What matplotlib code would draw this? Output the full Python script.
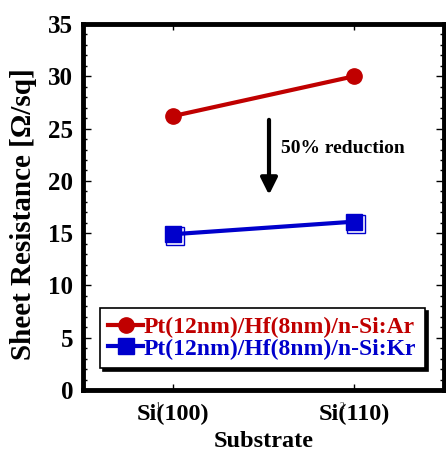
import numpy as np
import matplotlib.pyplot as plt
import matplotlib.transforms as mtransforms

plt.rcParams['font.family'] = ['Liberation Serif', 'DejaVu Serif']
plt.rcParams['font.weight'] = 'bold'

# data
substrates = ['Si(100)', 'Si(110)']
x_pos = [1, 2]
rs_ar = [26.2, 30.0]
rs_kr = [14.9, 16.1]
label_ar = 'Pt(12nm)/Hf(8nm)/n-Si:Ar'
label_kr = 'Pt(12nm)/Hf(8nm)/n-Si:Kr'

fig = plt.figure(figsize=(4.46, 4.53), dpi=100)
ax = fig.add_axes([0.186, 0.139, 0.81, 0.808])

ax.plot(x_pos, rs_ar, color='#c00000', lw=3, marker='o', ms=11, label=label_ar)
# hollow square shifted a bit, like the ghost marker in the original
shift = mtransforms.offset_copy(ax.transData, fig=fig, x=2, y=-2, units='dots')
ax.plot(x_pos, rs_kr, ls='none', marker='s', ms=13, mfc='none', mec='#0000cc', mew=1,
        transform=shift)
ax.plot(x_pos, rs_kr, color='#0000cc', lw=3, marker='s', ms=12, label=label_kr)

ax.annotate('', xy=(1.53, 18.4), xytext=(1.53, 26.1),
            arrowprops=dict(arrowstyle='-|>', color='black', lw=3, mutation_scale=25))
ax.text(1.595, 23.1, '50% reduction', fontsize=14, fontweight='bold', va='center')

ax.set_xlim(0.5, 2.5)
ax.set_ylim(0, 35)
ax.set_xticks(x_pos)
ax.set_xticklabels(substrates, fontsize=17.5, fontweight='bold')
nudge = mtransforms.ScaledTranslation(5 / 100, 0, fig.dpi_scale_trans)
for lab in ax.get_xticklabels():
    lab.set_transform(lab.get_transform() + nudge)
ax.set_yticks(np.arange(0, 36, 5))
ax.set_yticks(np.arange(0, 36, 1), minor=True)
ax.tick_params(axis='y', labelsize=18, direction='in', right=True, which='both',
               length=6, width=1, pad=7)
ax.tick_params(axis='y', which='minor', length=3)
ax.tick_params(axis='x', direction='in', top=True, length=4, width=1, pad=10)
for lab in ax.get_yticklabels():
    lab.set_fontweight('bold')
# tiny leftover category numbers sitting on the tick labels
for xv, num in zip([0.912, 1.934], ['1', '2']):
    ax.text(xv, -1.6, num, fontsize=7, ha='center', va='center',
            fontweight='normal', color='#333333')
for s in ax.spines.values():
    s.set_linewidth(3.5)

ax.set_xlabel('Substrate', fontsize=17.5, fontweight='bold', labelpad=4)
ax.set_ylabel('Sheet Resistance [\u03a9/sq]', fontsize=21, fontweight='bold')
ax.yaxis.set_label_coords(-0.128, 0.48)

leg = ax.legend(loc='lower left', bbox_to_anchor=(0.047, 0.06), fontsize=17,
                frameon=True, fancybox=False, shadow={'color': 'black', 'alpha': 1},
                handlelength=1.45, handletextpad=0.05, borderpad=0.36, labelspacing=0.0,
                borderaxespad=0, edgecolor='black')
leg.get_frame().set_linewidth(1.2)
for t, c in zip(leg.get_texts(), ['#c00000', '#0000cc']):
    t.set_color(c)
    t.set_fontweight('bold')

fig.savefig('out.png', dpi=100)
